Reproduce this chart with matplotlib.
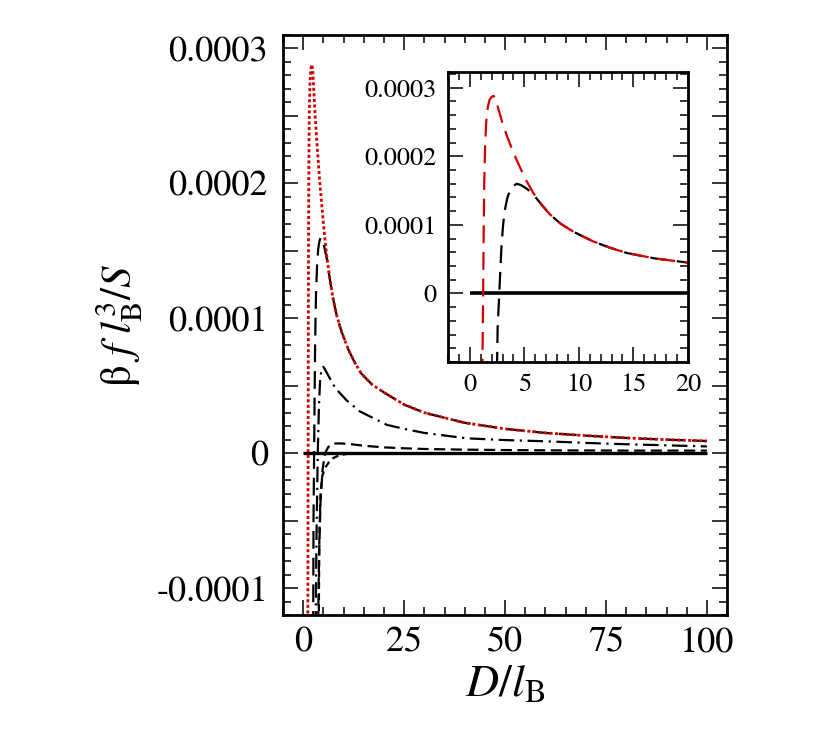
import matplotlib
matplotlib.use("Agg")
import matplotlib.pyplot as plt
from matplotlib.ticker import FixedLocator, MultipleLocator, FixedFormatter

plt.rcParams['font.family'] = ['STIXGeneral', 'DejaVu Serif']
plt.rcParams['mathtext.fontset'] = 'stix'
plt.rcParams['axes.unicode_minus'] = False

# ---- data (D / l_B, beta f l_B^3 / S) ----
red_D = [1.10, 1.15, 1.20, 1.22, 1.27, 1.32, 1.40, 1.50, 1.65, 1.80, 2.0, 2.2, 2.4, 2.6,
         3.0, 3.4, 4.0, 4.6, 5.2, 5.8, 6.5, 7.3, 8.3, 9.5, 11.3, 12.8, 14.4, 17, 20,
         25, 30, 40, 50, 60, 70, 80, 90, 100]
red_y = [-1.6e-4, -1.1e-4, -0.3e-4, 0.0, 0.9e-4, 1.6e-4, 2.15e-4, 2.5e-4, 2.72e-4, 2.82e-4,
         2.87e-4, 2.88e-4, 2.82e-4, 2.70e-4, 2.48e-4, 2.30e-4, 2.05e-4, 1.84e-4, 1.64e-4,
         1.47e-4, 1.31e-4, 1.16e-4, 1.02e-4, 0.90e-4, 0.76e-4, 0.67e-4, 0.59e-4, 0.51e-4,
         0.45e-4, 0.36e-4, 0.30e-4, 0.225e-4, 0.18e-4, 0.15e-4, 0.13e-4, 0.113e-4,
         0.10e-4, 0.09e-4]

ldash_D = [2.45, 2.55, 2.70, 2.80, 2.90, 3.05, 3.20, 3.45, 3.70, 4.0, 4.3, 4.7, 5.2, 5.8,
           6.5, 7.3, 8.3, 9.5, 11.3, 12.8, 14.4, 17, 20, 25, 30, 40, 50, 60, 70, 80, 90, 100]
ldash_y = [-1.5e-4, -0.5e-4, 0.0, 0.35e-4, 0.68e-4, 1.0e-4, 1.21e-4, 1.40e-4, 1.51e-4,
           1.57e-4, 1.60e-4, 1.58e-4, 1.53e-4, 1.45e-4, 1.31e-4, 1.16e-4, 1.02e-4,
           0.90e-4, 0.76e-4, 0.67e-4, 0.59e-4, 0.51e-4, 0.45e-4, 0.36e-4, 0.30e-4,
           0.225e-4, 0.18e-4, 0.15e-4, 0.13e-4, 0.113e-4, 0.10e-4, 0.09e-4]

dashdot_D = [3.0, 3.3, 3.6, 3.9, 4.2, 4.6, 5.0, 5.6, 6.5, 8.0, 10.8, 14, 20.7, 25, 30,
             40.5, 50, 60, 70, 80, 90, 100]
dashdot_y = [-1.5e-4, -0.6e-4, 0.0, 0.35e-4, 0.55e-4, 0.63e-4, 0.64e-4, 0.61e-4, 0.56e-4,
             0.48e-4, 0.39e-4, 0.31e-4, 0.21e-4, 0.18e-4, 0.15e-4, 0.11e-4, 0.097e-4,
             0.088e-4, 0.076e-4, 0.066e-4, 0.058e-4, 0.050e-4]

sdash_D = [3.6, 3.9, 4.3, 4.8, 5.4, 6.2, 7.0, 8.0, 9.5, 12, 15, 20, 25, 30, 40, 50, 60,
           70, 80, 90, 100]
sdash_y = [-1.5e-4, -0.8e-4, -0.35e-4, -0.12e-4, 0.0, 0.045e-4, 0.065e-4, 0.072e-4,
           0.072e-4, 0.066e-4, 0.055e-4, 0.043e-4, 0.036e-4, 0.031e-4, 0.026e-4,
           0.023e-4, 0.021e-4, 0.020e-4, 0.019e-4, 0.019e-4, 0.019e-4]

neg_D = [3.8, 4.0, 4.3, 4.7, 5.4, 6.3, 7.5, 9, 11, 14, 20, 100]
neg_y = [-1.5e-4, -0.6e-4, -0.3e-4, -0.17e-4, -0.11e-4, -0.07e-4, -0.035e-4, -0.015e-4,
         -0.005e-4, -0.001e-4, 0.0, 0.0]

zero_D = [0, 100]
zero_y = [0.0, 0.0]
inset_zero_D = [0, 20]

main_xticks = [0, 25, 50, 75, 100]
main_yticks = [-1e-4, -0.5e-4, 0.0, 0.5e-4, 1e-4, 1.5e-4, 2e-4, 2.5e-4, 3e-4]
main_ylabels = ['-0.0001', '', '0', '', '0.0001', '', '0.0002', '', '0.0003']
inset_xticks = [0, 5, 10, 15, 20]
inset_yticks = [0.0, 1e-4, 2e-4, 3e-4]
inset_ylabels = ['0', '0.0001', '0.0002', '0.0003']

RED = '#d00000'

fig = plt.figure(figsize=(8.3, 7.37), dpi=100)
ax = fig.add_axes([0.341, 0.1655, 0.535, 0.787])

ax.plot(zero_D, zero_y, color='black', lw=2.4, solid_capstyle='butt')
ax.plot(neg_D, neg_y, color='black', lw=1.6, ls=(0, (3, 2)))
ax.plot(sdash_D, sdash_y, color='black', lw=1.6, ls=(0, (5, 2.5)))
ax.plot(dashdot_D, dashdot_y, color='black', lw=1.6, ls=(0, (7, 2.5, 1, 2.5)))
ax.plot(ldash_D, ldash_y, color='black', lw=1.6, ls=(0, (8, 4)))
ax.plot(red_D, red_y, color=RED, lw=2.0, ls=(0, (1.1, 0.9)))

ax.set_xlim(-5, 105)
ax.set_ylim(-1.2e-4, 3.1e-4)
ax.xaxis.set_major_locator(FixedLocator(main_xticks))
ax.xaxis.set_minor_locator(MultipleLocator(5))
ax.yaxis.set_major_locator(FixedLocator(main_yticks))
ax.yaxis.set_major_formatter(FixedFormatter(main_ylabels))
ax.yaxis.set_minor_locator(MultipleLocator(1e-5))
ax.tick_params(which='both', direction='in', top=True, right=True, width=1.1)
ax.tick_params(which='major', length=11, labelsize=26, pad=11)
ax.tick_params(which='minor', length=6)
ax.tick_params(axis='x', which='major', pad=8)
for s in ax.spines.values():
    s.set_linewidth(2.0)
ax.set_xlabel(r'$D/l_{\rm B}$', fontsize=33, labelpad=4)
ax.set_ylabel(r'β$\ f\ l_{\rm B}^{3}/S$', fontsize=31, labelpad=8)

# inset
ins = fig.add_axes([0.5398, 0.5088, 0.289, 0.3935])
ins.plot(inset_zero_D, [0.0, 0.0], color='black', lw=2.6, solid_capstyle='butt')
ins.plot(ldash_D, ldash_y, color='black', lw=1.6, ls=(0, (8, 4)))
ins.plot(red_D, red_y, color=RED, lw=1.6, ls=(0, (8, 4)))
ins.set_xlim(-2, 20)
ins.set_ylim(-1.0e-4, 3.23e-4)
ins.xaxis.set_major_locator(FixedLocator(inset_xticks))
ins.xaxis.set_minor_locator(MultipleLocator(1))
ins.yaxis.set_major_locator(FixedLocator(inset_yticks))
ins.yaxis.set_major_formatter(FixedFormatter(inset_ylabels))
ins.yaxis.set_minor_locator(MultipleLocator(2e-5))
ins.tick_params(which='both', direction='in', top=True, right=True, width=1.1)
ins.tick_params(which='major', length=11, labelsize=19, pad=8)
ins.tick_params(which='minor', length=6)
for s in ins.spines.values():
    s.set_linewidth(2.0)

fig.savefig('out.png', dpi=100)
